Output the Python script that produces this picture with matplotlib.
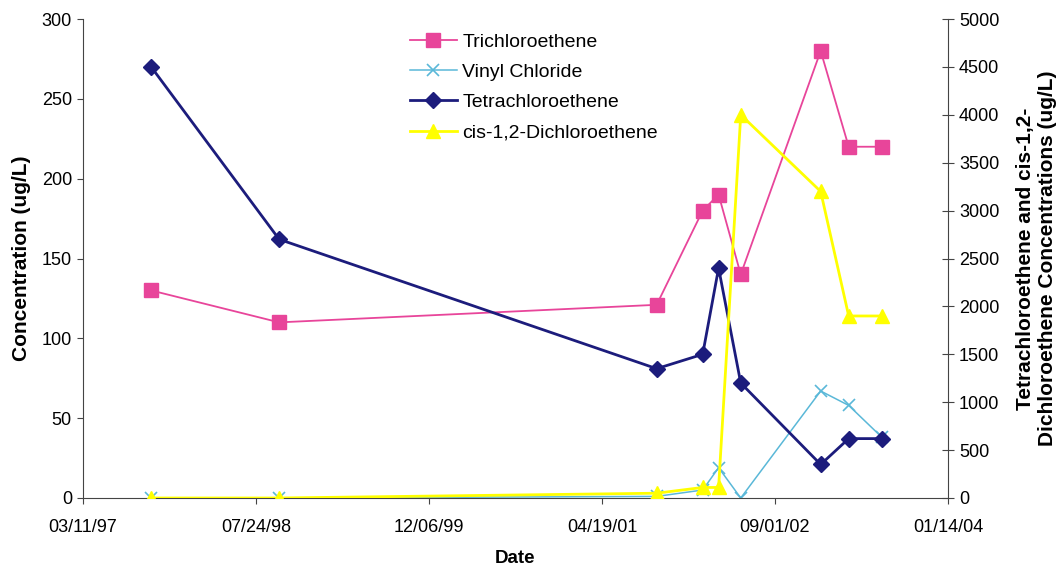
import matplotlib
matplotlib.use("Agg")
import matplotlib.pyplot as plt
import matplotlib.dates as mdates
import numpy as np
from datetime import date, timedelta

plt.rcParams['font.family'] = ['Liberation Sans', 'DejaVu Sans']

# sampling dates
dates = [date(1997, 9, 24), date(1998, 9, 29), date(2001, 9, 24), date(2002, 2, 4),
         date(2002, 3, 22), date(2002, 5, 25), date(2003, 1, 11), date(2003, 4, 2),
         date(2003, 7, 7)]

# left axis (ug/L)
tce = [130, 110, 121, 180, 190, 140, 280, 220, 220]
vinyl = [0, 0, 1, 5, 19, 0, 67, 58, 38]

# right axis (ug/L)
pce = [4500, 2700, 1350, 1500, 2400, 1200, 350, 620, 620]
dce = [0, 0, 50, 110, 110, 4000, 3200, 1900, 1900]

start = date(1997, 3, 11)
tick_dates = [start + timedelta(days=500 * i) for i in range(6)]

W, H = 1058, 565
fig = plt.figure(figsize=(W / 100, H / 100), dpi=100)
ax = fig.add_axes([83 / W, 1 - 498 / H, 865 / W, 479 / H])
ax2 = ax.twinx()

l1, = ax.plot(dates, tce, color='#e8459a', lw=1.3, marker='s', ms=9.5, label='Trichloroethene')
l2, = ax.plot(dates, vinyl, color='#5ab8d8', lw=1.1, marker='x', ms=9, mew=1.2, label='Vinyl Chloride')
l3, = ax2.plot(dates, pce, color='#1c1c7c', lw=2, marker='D', ms=8, label='Tetrachloroethene')
l4, = ax2.plot(dates, dce, color='#ffff00', lw=2, marker='^', ms=10, label='cis-1,2-Dichloroethene')

ax.set_xlim(tick_dates[0], tick_dates[-1])
ax.set_ylim(0, 300)
ax2.set_ylim(0, 5000)
ax.set_yticks(np.arange(0, 301, 50))
ax2.set_yticks(np.arange(0, 5001, 500))
ax.set_xticks(tick_dates)
ax.xaxis.set_major_formatter(mdates.DateFormatter('%m/%d/%y'))

gray = '#444444'
for a in (ax, ax2):
    a.spines['top'].set_visible(False)
    a.set_facecolor('none')
for s in ('left', 'bottom'):
    ax.spines[s].set_color(gray)
ax2.spines['right'].set_color(gray)
ax2.spines['left'].set_visible(False)
ax2.spines['bottom'].set_visible(False)
ax.spines['right'].set_visible(False)

ax.tick_params(axis='x', direction='out', length=4, labelsize=13, pad=11, color=gray)
ax.tick_params(axis='y', direction='out', length=4, labelsize=13, pad=4, color=gray)
ax2.tick_params(axis='y', direction='inout', length=8, labelsize=13, pad=4, color=gray)

ax.set_xlabel('Date', fontsize=13.5, fontweight='bold', labelpad=10)
ax.set_ylabel('Concentration (ug/L)', fontsize=15, fontweight='bold', labelpad=8)
ax2.set_ylabel('Tetrachloroethene and cis-1,2-\nDichloroethene Concentrations (ug/L)',
               fontsize=15, fontweight='bold', labelpad=12)

fig.legend(handles=[l1, l2, l3, l4], loc='upper left', bbox_to_anchor=(410 / W, 1 - 33 / H),
           frameon=False, fontsize=14, handlelength=2.4, handletextpad=0.3,
           labelspacing=0.65, borderpad=0, borderaxespad=0)

fig.savefig('out.png', dpi=100)
